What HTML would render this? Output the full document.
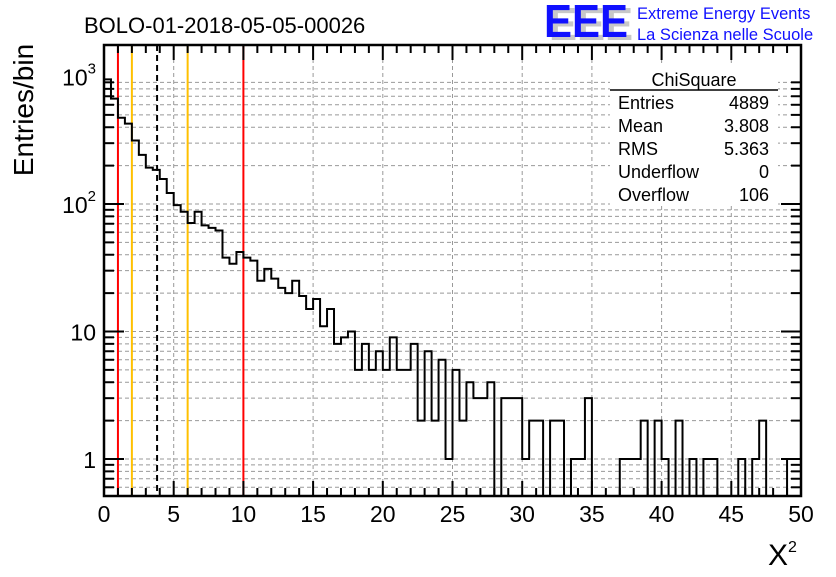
<!DOCTYPE html>
<html><head><meta charset="utf-8"><style>
body{margin:0;background:#fff;}
svg text{font-family:"Liberation Sans",sans-serif;}
</style></head><body>
<svg id="c" width="836" height="572" xmlns="http://www.w3.org/2000/svg">
<rect width="836" height="572" fill="#fff"/>
<g id="grid"></g>
<g id="lines"></g>
<g id="hist"></g>
<g id="axes"></g>
<text x="84" y="33" font-size="22">BOLO-01-2018-05-05-00026</text>
<g>
<text x="549" y="40" font-size="46" font-weight="bold" fill="#c8c8c8" textLength="84" lengthAdjust="spacingAndGlyphs">EEE</text>
<text x="544" y="37" font-size="46" font-weight="bold" fill="#1010ff" textLength="84" lengthAdjust="spacingAndGlyphs">EEE</text>
<text x="637" y="19" font-size="16.5" fill="#1010ff">Extreme Energy Events</text>
<text x="637" y="40" font-size="16.5" fill="#1010ff">La Scienza nelle Scuole</text>
</g>
<g>
<rect x="610" y="66" width="168" height="140" fill="#fff"/>
<text x="694" y="86" font-size="18" text-anchor="middle">ChiSquare</text>
<line x1="610" y1="90" x2="778" y2="90" stroke="#000" stroke-width="1.5"/>
<text x="618" y="109" font-size="18">Entries</text><text x="769" y="109" font-size="18" text-anchor="end">4889</text>
<text x="618" y="132" font-size="18">Mean</text><text x="769" y="132" font-size="18" text-anchor="end">3.808</text>
<text x="618" y="155" font-size="18">RMS</text><text x="769" y="155" font-size="18" text-anchor="end">5.363</text>
<text x="618" y="178" font-size="18">Underflow</text><text x="769" y="178" font-size="18" text-anchor="end">0</text>
<text x="618" y="201" font-size="18">Overflow</text><text x="769" y="201" font-size="18" text-anchor="end">106</text>
</g>
<text transform="translate(33,110) rotate(-90)" font-size="28" text-anchor="middle">Entries/bin</text>
<text x="768" y="565" font-size="30" font-family="Liberation Serif,serif">X<tspan font-size="16" dy="-13">2</tspan></text>
</svg>
<script>
const binWidth = 0.5;
const counts = [950,671,475,427,315,243,193,185,157,122,98,87,71,87,68,65,62,38,34,42,38,36,25,31,26,22,20,25,19,15,18,11,15,8,9,10,5,8,5,7,5,9,5,5,8,2,7,2,6,1,5,2,4,3,3,4,0,3,3,3,1,2,2,0,2,2,0,1,1,3,0,0,0,0,1,1,1,2,0,2,1,0,2,0,1,0,1,1,0,0,0,1,0,1,2,0,0,0,1,1];
const xTicks = [0,5,10,15,20,25,30,35,40,45,50];
const yTickVals = [1,10,100,1000];
const yTickLabels = ["1","10","10²","10³"];
const markerRed = [1,10];
const markerYellow = [2,6];
const meanVal = 3.808;

const NS="http://www.w3.org/2000/svg";
const X0=104,X1=801,YT=45,YB=496,XMAX=50,DEC=127.5,Y1=459;
const sx=v=>X0+v*(X1-X0)/XMAX;
const sy=v=>v<=0?YB:Math.max(YT,Math.min(YB,Y1-DEC*Math.log10(v)));
function mk(tag,attrs,parent){const e=document.createElementNS(NS,tag);for(const k in attrs)e.setAttribute(k,attrs[k]);parent.appendChild(e);return e;}
const grid=document.getElementById('grid'),axes=document.getElementById('axes'),hist=document.getElementById('hist'),lines=document.getElementById('lines');
for(let d=0;d<4;d++)for(let m=1;m<10;m++){const v=m*Math.pow(10,d-1);const y=Y1-DEC*Math.log10(v);if(y<YT||y>YB)continue;
 const g=mk('line',{x1:X0,x2:X1,y1:y,y2:y,stroke:'#999','stroke-dasharray':'4,3','stroke-width':1},grid);
 
 
 const L=(m===1)?20:10;
 mk('line',{x1:X0,x2:X0+L,y1:y,y2:y,stroke:'#000','stroke-width':2},axes);
 mk('line',{x1:X1-L,x2:X1,y1:y,y2:y,stroke:'#000','stroke-width':2},axes);}
xTicks.forEach(v=>{if(v>0&&v<50){const g=mk('line',{x1:sx(v),x2:sx(v),y1:YT,y2:YB,stroke:'#999','stroke-dasharray':'4,3'},grid);
 
 }});
for(let v=0;v<=50;v++){const L=v%5===0?15:8;
 mk('line',{x1:sx(v),x2:sx(v),y1:YB,y2:YB-L,stroke:'#000','stroke-width':2},axes);
 mk('line',{x1:sx(v),x2:sx(v),y1:YT,y2:YT+L,stroke:'#000','stroke-width':2},axes);}
xTicks.forEach(v=>{const t=mk('text',{x:sx(v),y:522,'font-size':23,'text-anchor':'middle'},axes);t.textContent=v;
 
 });
yTickVals.forEach((v,i)=>{const t=mk('text',{x:96,y:sy(v)+9,'font-size':23,'text-anchor':'end'},axes);
 if(i>=2){t.textContent='10';const s=mk('tspan',{'font-size':15,dy:-12},t);s.textContent=i===2?'2':'3';}else t.textContent=yTickLabels[i];
 
 });
mk('rect',{x:X0,y:YT,width:X1-X0,height:YB-YT,fill:'none',stroke:'#000','stroke-width':2.5},axes);
markerRed.forEach(v=>{const l=mk('line',{x1:sx(v),x2:sx(v),y1:YT,y2:YB,stroke:'#f00','stroke-width':2},lines);
 
 });
markerYellow.forEach(v=>{const l=mk('line',{x1:sx(v),x2:sx(v),y1:YT,y2:YB,stroke:'#ffc000','stroke-width':2},lines);
 
 });
const ml=mk('line',{x1:sx(meanVal),x2:sx(meanVal),y1:YT,y2:YB,stroke:'#000','stroke-width':2,'stroke-dasharray':'6,4'},lines);


let d=`M${sx(0)},${sy(counts[0])}`;
counts.forEach((c,i)=>{const xa=sx(i*binWidth),xb=sx((i+1)*binWidth);d+=` L${xa},${sy(c)} L${xb},${sy(c)}`;});
d+=` L${sx(counts.length*binWidth)},${YB}`;
const p=mk('path',{d:d,fill:'none',stroke:'#000','stroke-width':2},hist);


</script>
</body></html>
